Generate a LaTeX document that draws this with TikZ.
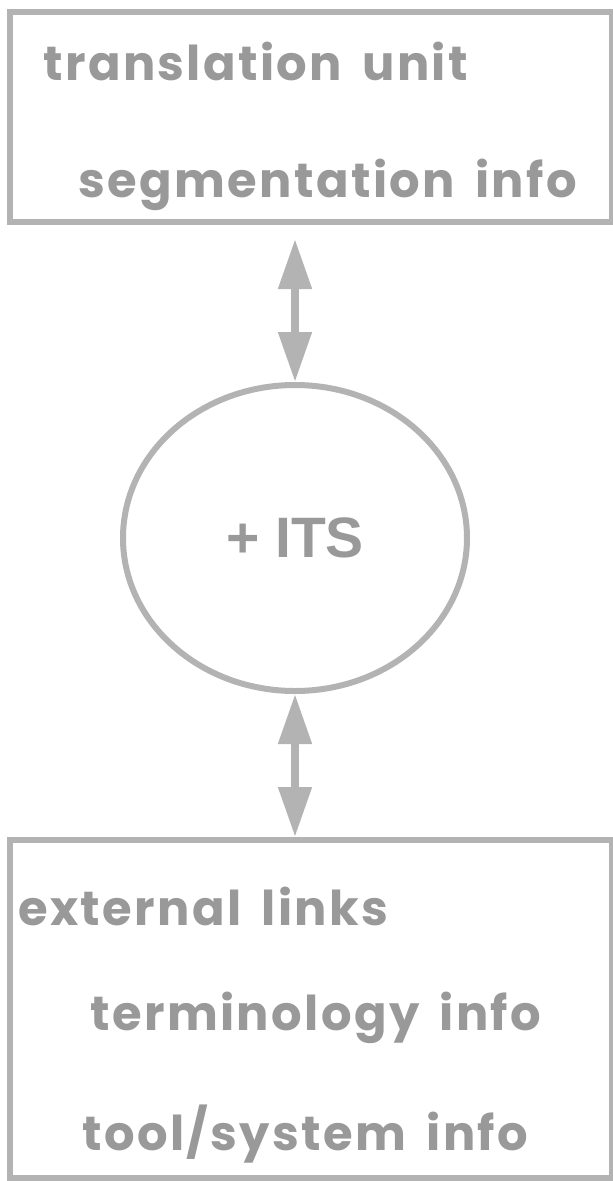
\documentclass[tikz,border=0pt]{standalone}
\usepackage{fontspec}
\setmainfont{Poppins}[LetterSpace=5,WordSpace=1.6]
\newfontfamily\itsfont{Liberation Sans}
\usepackage{tikz}
\usetikzlibrary{shapes.geometric,arrows.meta}
\definecolor{linegray}{HTML}{B3B3B3}
\definecolor{textgray}{HTML}{999999}

\begin{document}
\begin{tikzpicture}[x=1pt,y=1pt]
					\tikzstyle{every node}+=[inner sep=0pt]
					\tikzstyle{box}=[draw=linegray,line width=6pt,rectangle,minimum width=602pt]
					\tikzstyle{txt}=[anchor=base west,text=textgray,font=\fontsize{48}{48}\selectfont\bfseries]
					\tikzstyle{link}=[draw=linegray,line width=8pt,{Triangle[length=50pt,width=32pt]}-{Triangle[length=50pt,width=32pt]}]
					\useasboundingbox (0,0) rectangle (613,-1181);
					\node [box,minimum height=210pt] (tu) at (311,-117) {};
					\node [txt] (tuname) at (43,-80) {translation unit};
					\node [txt] (seg) at (78,-197) {segmentation info};
					\node [draw=linegray,line width=6pt,ellipse,minimum width=344pt,minimum height=306pt] (its) at (295,-538) {};
					\node [text=textgray,font=\itsfont\fontsize{57}{57}\selectfont\bfseries] (itsname) at (its.center) {+ ITS};
					\node [box,minimum height=338pt] (ext) at (311,-1009) {};
					\node [txt] (extname) at (18,-925) {external links};
					\node [txt] (term) at (90,-1030) {terminology info};
					\node [txt] (tool) at (82,-1150) {tool/system info};
					\coordinate (tuend) at ([yshift=-14pt]its.north |- tu.south);
					\draw [link] (tuend) -- (its.north);
					\draw [link] (its.south) -- (its.south |- ext.north);
\end{tikzpicture}
\end{document}
